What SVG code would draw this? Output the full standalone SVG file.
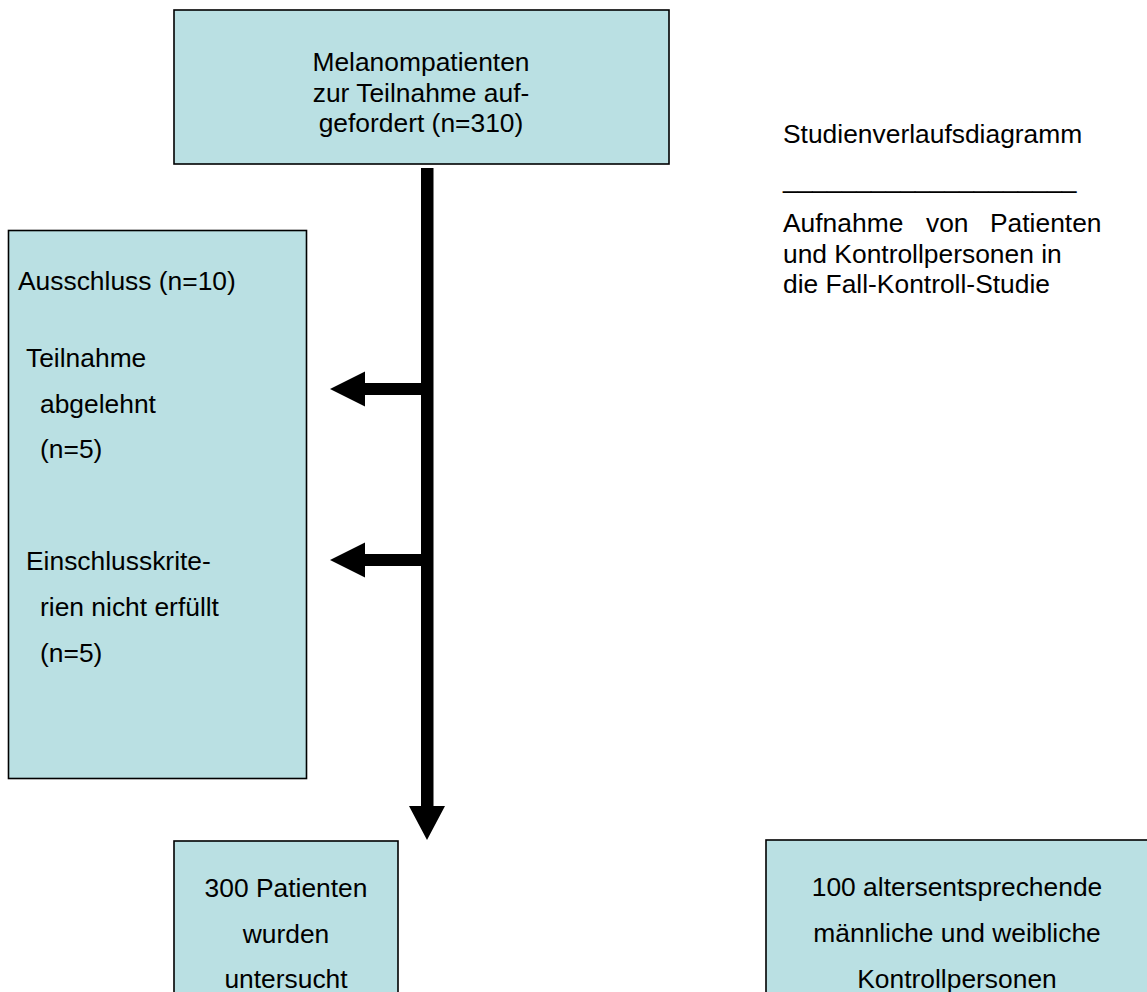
<svg xmlns="http://www.w3.org/2000/svg" width="1147" height="992" viewBox="0 0 1147 992">
<style>
.box{fill:#BAE0E3;stroke:#000;stroke-width:1.6}
.t{font-family:"Liberation Sans",Arial,sans-serif;font-size:26.4px;fill:#000}
.c{text-anchor:middle}
.arr{fill:#000}
</style>
<rect width="1147" height="992" fill="#fff"/>
<g id="node-start">
<rect class="box" x="174" y="10" width="495" height="154"/>
<text class="t c" x="421" y="71">Melanompatienten</text>
<text class="t c" x="421" y="101.5">zur Teilnahme auf-</text>
<text class="t c" x="421" y="132">gefordert (n=310)</text>
</g>
<g id="node-exclusion">
<rect class="box" x="8.5" y="230.5" width="298" height="548"/>
<text class="t" x="18" y="290">Ausschluss (n=10)</text>
<text class="t" x="26" y="367">Teilnahme</text>
<text class="t" x="40" y="413">abgelehnt</text>
<text class="t" x="40" y="458">(n=5)</text>
<text class="t" x="26" y="570">Einschlusskrite-</text>
<text class="t" x="40" y="616">rien nicht erfüllt</text>
<text class="t" x="40" y="662">(n=5)</text>
</g>
<g id="node-patients">
<rect class="box" x="174" y="841" width="224" height="160"/>
<text class="t c" x="286" y="897">300 Patienten</text>
<text class="t c" x="286" y="943">wurden</text>
<text class="t c" x="286" y="988">untersucht</text>
</g>
<g id="node-controls">
<rect class="box" x="766" y="840" width="390" height="160"/>
<text class="t c" x="957" y="896">100 altersentsprechende</text>
<text class="t c" x="957" y="942">männliche und weibliche</text>
<text class="t c" x="957" y="988">Kontrollpersonen</text>
</g>
<g id="node-title">
<text class="t" x="783" y="143">Studienverlaufsdiagramm</text>
<text class="t" x="783" y="188">____________________</text>
<text class="t" y="232"><tspan x="783">Aufnahme</tspan><tspan x="926">von</tspan><tspan x="990">Patienten</tspan></text>
<text class="t" x="783" y="262.5">und Kontrollpersonen in</text>
<text class="t" x="783" y="293">die Fall-Kontroll-Studie</text>
</g>
<g id="connectors">
<path class="arr" d="M421 168 H433.5 V806 H445 L427 840 L409 806 H421 Z"/>
<path class="arr" d="M421 383 V395 H365 V406.5 L330 389 L365 371.5 V383 Z"/>
<path class="arr" d="M421 554 V566 H365 V577.5 L330 560 L365 542.5 V554 Z"/>
</g>
</svg>
